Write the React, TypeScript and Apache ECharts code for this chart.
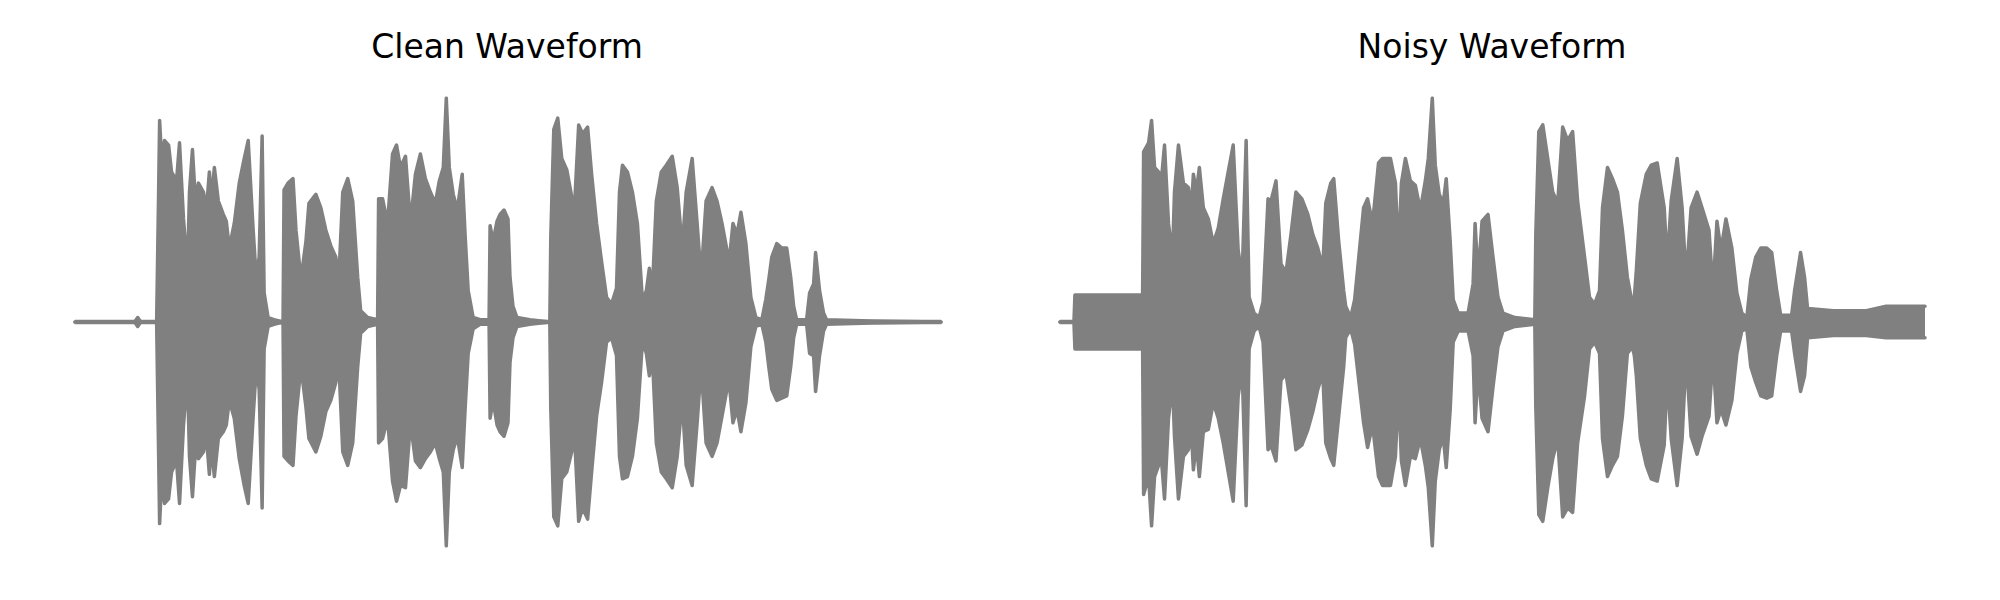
import React, { useEffect, useRef } from "react";
import * as echarts from "echarts";

// Titles
const titles = ["Clean Waveform", "Noisy Waveform"];

// Clean waveform envelope: frame index, upper peak, lower peak (magnitude)
const cleanFrames = [0, 60, 63, 66, 82, 84, 85, 87, 90, 94, 97, 102, 105, 109, 113, 115, 118, 121, 124, 129, 132, 135, 137, 140, 144, 149, 152, 155, 160, 165, 170, 174, 179, 182, 185, 188, 190, 194, 200, 209, 210, 214, 219, 222, 227, 232, 235, 242, 247, 252, 257, 262, 265, 269, 274, 279, 284, 287, 294, 304, 305, 309, 314, 319, 323, 327, 332, 337, 342, 347, 352, 357, 362, 366, 370, 373, 376, 380, 384, 389, 392, 395, 400, 407, 416, 417, 420, 424, 427, 431, 435, 437, 440, 444, 457, 477, 478, 481, 485, 489, 494, 499, 502, 506, 510, 515, 519, 524, 529, 534, 539, 544, 547, 550, 555, 560, 565, 570, 574, 577, 580, 584, 589, 594, 600, 605, 610, 614, 620, 625, 629, 634, 640, 645, 650, 655, 657, 661, 665, 669, 674, 679, 684, 690, 694, 697, 700, 705, 710, 715, 719, 722, 725, 735, 738, 742, 744, 748, 752, 755, 800, 870];
const cleanUpper = [0, 0, 0.02, 0, 0, 0.58, 0.9, 0.73, 0.81, 0.79, 0.67, 0.63, 0.8, 0.46, 0.23, 0.58, 0.77, 0.54, 0.62, 0.58, 0.5, 0.67, 0.54, 0.69, 0.54, 0.48, 0.45, 0.33, 0.44, 0.62, 0.73, 0.81, 0.41, 0.2, 0.29, 0.83, 0.13, 0.02, 0.01, 0, 0.59, 0.62, 0.64, 0.41, 0.19, 0.36, 0.53, 0.57, 0.51, 0.41, 0.34, 0.29, 0.19, 0.58, 0.64, 0.54, 0.2, 0.05, 0.02, 0.01, 0.55, 0.55, 0.44, 0.75, 0.79, 0.69, 0.74, 0.44, 0.66, 0.75, 0.64, 0.58, 0.53, 0.63, 0.69, 1.0, 0.69, 0.57, 0.5, 0.66, 0.38, 0.14, 0.02, 0.01, 0.01, 0.43, 0.36, 0.45, 0.48, 0.5, 0.46, 0.2, 0.07, 0.02, 0.01, 0, 0.38, 0.86, 0.91, 0.73, 0.68, 0.56, 0.53, 0.88, 0.84, 0.87, 0.66, 0.44, 0.27, 0.11, 0.08, 0.15, 0.58, 0.7, 0.67, 0.58, 0.44, 0.1, 0.14, 0.24, 0.14, 0.54, 0.67, 0.7, 0.74, 0.6, 0.33, 0.58, 0.73, 0.44, 0.2, 0.54, 0.6, 0.54, 0.44, 0.32, 0.26, 0.44, 0.39, 0.49, 0.35, 0.11, 0.02, 0.01, 0.1, 0.19, 0.29, 0.35, 0.33, 0.33, 0.2, 0.07, 0.01, 0.01, 0.13, 0.17, 0.31, 0.14, 0.04, 0.01, 0.005, 0];
const cleanLower = [0, 0, 0.02, 0, 0, 0.59, 0.9, 0.71, 0.81, 0.79, 0.67, 0.62, 0.81, 0.46, 0.24, 0.6, 0.78, 0.57, 0.61, 0.58, 0.51, 0.68, 0.55, 0.69, 0.52, 0.49, 0.46, 0.35, 0.43, 0.61, 0.73, 0.81, 0.42, 0.21, 0.3, 0.83, 0.12, 0.02, 0.01, 0, 0.6, 0.62, 0.64, 0.42, 0.2, 0.38, 0.52, 0.58, 0.51, 0.4, 0.35, 0.27, 0.18, 0.58, 0.64, 0.54, 0.2, 0.05, 0.02, 0.01, 0.54, 0.52, 0.43, 0.71, 0.8, 0.73, 0.74, 0.45, 0.62, 0.65, 0.61, 0.58, 0.54, 0.61, 0.67, 1.0, 0.67, 0.57, 0.51, 0.65, 0.38, 0.14, 0.03, 0.01, 0.01, 0.43, 0.35, 0.46, 0.49, 0.51, 0.45, 0.18, 0.07, 0.02, 0.01, 0, 0.39, 0.87, 0.91, 0.7, 0.67, 0.58, 0.52, 0.89, 0.83, 0.88, 0.67, 0.42, 0.27, 0.09, 0.07, 0.15, 0.6, 0.7, 0.69, 0.6, 0.43, 0.09, 0.14, 0.24, 0.15, 0.54, 0.67, 0.7, 0.74, 0.6, 0.35, 0.64, 0.73, 0.45, 0.2, 0.54, 0.6, 0.54, 0.42, 0.3, 0.26, 0.45, 0.39, 0.49, 0.36, 0.11, 0.02, 0.01, 0.09, 0.2, 0.3, 0.35, 0.34, 0.33, 0.2, 0.07, 0.01, 0.01, 0.14, 0.15, 0.31, 0.15, 0.04, 0.01, 0.005, 0];

// Noisy waveform envelope
const noisyFrames = [0, 14, 15, 47, 83, 84, 89, 92, 95, 99, 102, 105, 109, 113, 115, 119, 124, 129, 132, 134, 137, 140, 144, 149, 154, 159, 164, 169, 174, 179, 183, 187, 190, 195, 200, 204, 209, 212, 217, 222, 227, 232, 237, 243, 249, 254, 259, 264, 267, 272, 275, 280, 285, 287, 292, 296, 305, 309, 314, 320, 324, 332, 337, 340, 343, 347, 352, 357, 362, 367, 370, 374, 377, 381, 385, 388, 392, 395, 400, 410, 415, 417, 420, 424, 430, 435, 440, 445, 457, 477, 478, 481, 485, 490, 495, 500, 505, 510, 515, 520, 527, 532, 537, 542, 545, 550, 555, 560, 565, 570, 575, 577, 579, 583, 589, 594, 600, 607, 610, 614, 620, 625, 629, 634, 640, 645, 652, 656, 660, 664, 669, 675, 680, 685, 690, 694, 699, 704, 710, 715, 720, 724, 735, 738, 744, 748, 751, 777, 810, 830, 869];
const noisyUpper = [0, 0, 0.12, 0.12, 0.12, 0.76, 0.8, 0.9, 0.69, 0.67, 0.64, 0.79, 0.44, 0.29, 0.58, 0.79, 0.62, 0.6, 0.5, 0.66, 0.58, 0.69, 0.51, 0.46, 0.35, 0.42, 0.55, 0.67, 0.79, 0.32, 0.2, 0.81, 0.11, 0.04, 0.02, 0.09, 0.55, 0.54, 0.63, 0.26, 0.22, 0.39, 0.58, 0.55, 0.48, 0.39, 0.33, 0.24, 0.53, 0.62, 0.64, 0.36, 0.14, 0.07, 0.02, 0.1, 0.51, 0.55, 0.44, 0.71, 0.73, 0.73, 0.62, 0.29, 0.62, 0.73, 0.63, 0.61, 0.5, 0.63, 0.73, 1.0, 0.7, 0.57, 0.53, 0.64, 0.36, 0.1, 0.04, 0.04, 0.17, 0.44, 0.2, 0.45, 0.48, 0.29, 0.11, 0.04, 0.02, 0.01, 0.39, 0.85, 0.88, 0.73, 0.58, 0.53, 0.87, 0.81, 0.85, 0.54, 0.29, 0.11, 0.08, 0.14, 0.51, 0.69, 0.64, 0.58, 0.41, 0.2, 0.08, 0.11, 0.23, 0.53, 0.66, 0.7, 0.71, 0.51, 0.26, 0.54, 0.73, 0.51, 0.19, 0.51, 0.58, 0.51, 0.41, 0.14, 0.45, 0.32, 0.46, 0.33, 0.13, 0.04, 0.02, 0.19, 0.29, 0.33, 0.33, 0.31, 0.14, 0.03, 0.03, 0.14, 0.31, 0.2, 0.06, 0.05, 0.05, 0.07, 0.07];
const noisyLower = [0, 0, 0.12, 0.12, 0.12, 0.77, 0.69, 0.91, 0.69, 0.64, 0.62, 0.79, 0.43, 0.27, 0.51, 0.79, 0.6, 0.57, 0.49, 0.66, 0.54, 0.69, 0.49, 0.48, 0.36, 0.43, 0.54, 0.67, 0.8, 0.33, 0.21, 0.82, 0.12, 0.04, 0.02, 0.09, 0.57, 0.55, 0.62, 0.26, 0.23, 0.38, 0.57, 0.55, 0.48, 0.4, 0.3, 0.23, 0.54, 0.61, 0.64, 0.42, 0.2, 0.07, 0.03, 0.1, 0.45, 0.56, 0.46, 0.69, 0.73, 0.73, 0.6, 0.3, 0.62, 0.73, 0.6, 0.61, 0.52, 0.64, 0.74, 1.0, 0.71, 0.57, 0.51, 0.65, 0.39, 0.09, 0.04, 0.04, 0.15, 0.45, 0.21, 0.43, 0.49, 0.29, 0.11, 0.04, 0.02, 0.01, 0.38, 0.86, 0.89, 0.74, 0.61, 0.52, 0.87, 0.83, 0.85, 0.54, 0.33, 0.12, 0.09, 0.14, 0.52, 0.69, 0.64, 0.6, 0.42, 0.14, 0.11, 0.15, 0.24, 0.52, 0.64, 0.7, 0.71, 0.55, 0.24, 0.52, 0.73, 0.52, 0.15, 0.51, 0.59, 0.51, 0.42, 0.15, 0.45, 0.39, 0.46, 0.35, 0.14, 0.04, 0.03, 0.2, 0.27, 0.33, 0.34, 0.33, 0.15, 0.04, 0.04, 0.14, 0.31, 0.24, 0.07, 0.06, 0.06, 0.07, 0.07];

const GRAY = "#808080";

function envelopeSeries(idx: number, frames: number[], upper: number[], lower: number[]) {
  const common = {
    type: "line",
    xAxisIndex: idx,
    yAxisIndex: idx,
    symbol: "none",
    silent: true,
    lineStyle: { color: GRAY, width: 3.5, cap: "round", join: "round" },
  };
  return [
    {
      ...common,
      data: frames.map((f, i) => [f, upper[i]]),
      areaStyle: { color: GRAY, opacity: 1, origin: -0.01 },
    },
    {
      ...common,
      data: frames.map((f, i) => [f, -lower[i]]),
      areaStyle: { color: GRAY, opacity: 1, origin: 0.01 },
    },
  ];
}

export default function App() {
  const ref = useRef<HTMLDivElement>(null);
  useEffect(() => {
    if (!ref.current) return;
    const chart = echarts.init(ref.current, null, { renderer: "svg" });
    const grids = [
      { left: 75, top: 98, width: 866, height: 448 },
      { left: 1060, top: 98, width: 866, height: 448 },
    ];
    chart.setOption({
      animation: false,
      backgroundColor: "#ffffff",
      grid: grids,
      xAxis: grids.map((_, i) => ({ type: "value", gridIndex: i, min: 0, max: 870, show: false })),
      yAxis: grids.map((_, i) => ({ type: "value", gridIndex: i, min: -1, max: 1, show: false })),
      graphic: titles.map((t, i) => ({
        type: "text",
        x: i === 0 ? 507 : 1492,
        y: 46,
        style: {
          text: t,
          font: '33px "DejaVu Sans"',
          fill: "#000000",
          textAlign: "center",
          textVerticalAlign: "middle",
        },
      })),
      series: [
        ...envelopeSeries(0, cleanFrames, cleanUpper, cleanLower),
        ...envelopeSeries(1, noisyFrames, noisyUpper, noisyLower),
      ],
    });
    return () => chart.dispose();
  }, []);
  return (
    <div
      ref={ref}
      style={{ position: "fixed", left: 0, top: 0, width: 2000, height: 600 }}
    />
  );
}
